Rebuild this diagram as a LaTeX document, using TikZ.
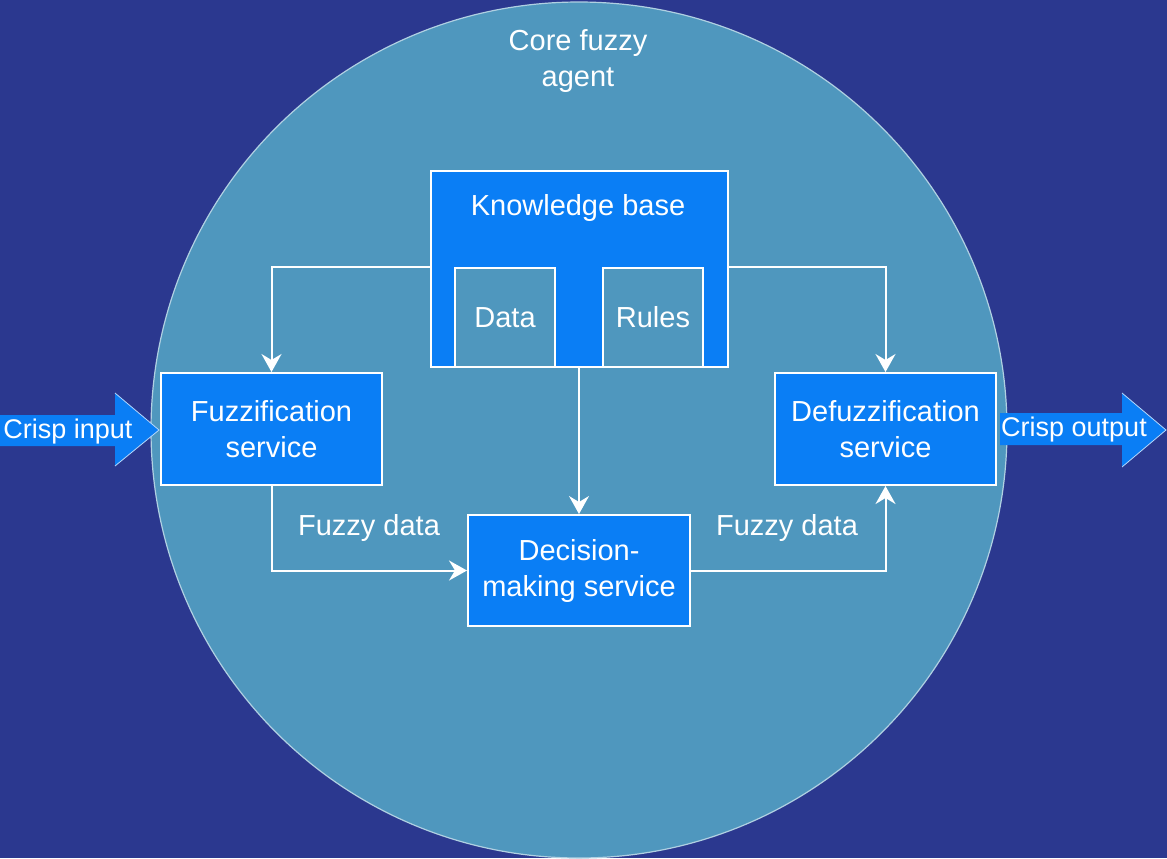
\documentclass[tikz,border=0pt]{standalone}
\usepackage{fontspec}
\setmainfont{Liberation Sans}
\usetikzlibrary{arrows.meta}
\definecolor{bgblue}{HTML}{2B388F}
\definecolor{agentblue}{HTML}{4F97BE}
\definecolor{boxblue}{HTML}{0A7EF5}
\tikzset{
  panel/.style={draw=white, fill=boxblue, line width=1pt, text=white, align=center,
    font=\fontsize{14.5}{18}\selectfont, inner sep=0pt},
  inner/.style={draw=white, fill=agentblue, line width=1pt, text=white,
    font=\fontsize{14.5}{18}\selectfont, minimum width=50pt, minimum height=49.5pt, inner sep=0pt},
  flow/.style={draw=white, line width=1pt, -{Stealth[length=9pt,width=10pt,inset=3pt]}},
  caption/.style={text=white, align=center, font=\fontsize{14.5}{18}\selectfont},
  crisp/.style={text=white, font=\fontsize{13.5}{16}\selectfont, inner sep=0pt},
}
\begin{document}
\begin{tikzpicture}[x=0.5pt,y=-0.5pt]
  \fill[bgblue] (0,0) rectangle (1167,858);

  % the agent
  \node[circle, fill=agentblue, draw=white!55!agentblue, line width=0.6pt,
        minimum size=428pt, inner sep=0pt] (agent) at (579,430) {};
  \node[caption] (agenttext) at (578,61) {Core fuzzy\\agent};

  % knowledge base
  \node[panel, minimum width=148.5pt, minimum height=98pt] (kb) at (579,269) {};
  \node[caption] (kbtext) at (578,208) {Knowledge base};
  \node[inner] (data) at (505,317.5) {Data};
  \node[inner] (rules) at (653,317.5) {Rules};

  % services
  \node[panel, minimum width=110.5pt, minimum height=56pt] (fuzz) at (271.5,429) {Fuzzification\\service};
  \node[panel, minimum width=110.5pt, minimum height=56pt] (defuzz) at (885.5,429) {Defuzzification\\service};
  \node[panel, minimum width=111pt, minimum height=55.5pt] (dec) at (579,570.5) {Decision-\\making service};

  % connectors
  \draw[flow] (kb.west |- data.north) -| (fuzz.north);
  \draw[flow] (kb.east |- rules.north) -| (defuzz.north);
  \draw[flow] (kb.south) -- (dec.north);
  \draw[flow] (fuzz.south) |- (dec.west);
  \draw[flow] (dec.east) -| (defuzz.south);
  \node[caption] (fdin) at (369,528) {Fuzzy data};
  \node[caption] (fdout) at (787,528) {Fuzzy data};

  % crisp input / output
  \fill[boxblue] (0,415) -- (115,415) -- (115,393) -- (159,430) -- (115,466) -- (115,446) -- (0,446) -- cycle;
  \draw[white!70!boxblue, line width=0.4pt] (115,393) -- (159,430) -- (115,466);
  \node[crisp] (crispin) at (68,432) {Crisp input};
  \fill[boxblue] (1000,413) -- (1122,413) -- (1122,393) -- (1166,430) -- (1122,467) -- (1122,445) -- (1000,445) -- cycle;
  \draw[white!70!boxblue, line width=0.4pt] (1122,393) -- (1166,430) -- (1122,467);
  \node[crisp] (crispout) at (1074,430) {Crisp output};
\end{tikzpicture}
\end{document}
